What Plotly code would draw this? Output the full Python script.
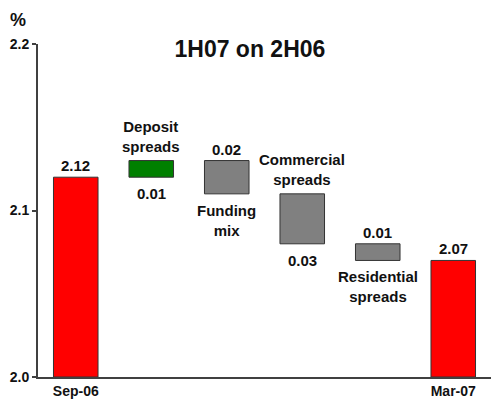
import plotly.graph_objects as go

# ---- data ----
categories = ["Sep-06", "Deposit spreads", "Funding mix", "Commercial spreads", "Residential spreads", "Mar-07"]
name_lines = ["Sep-06", "Deposit<br>spreads", "Funding<br>mix", "Commercial<br>spreads", "Residential<br>spreads", "Mar-07"]
start_value = 2.12
changes = [0.01, -0.02, -0.03, -0.01]
end_value = 2.07
tick_labels = ["Sep-06", "", "", "", "", "Mar-07"]
y_ticks = [2.0, 2.1, 2.2]

FONT = "Liberation Sans, Arial, sans-serif"
RED = "#FF0000"
GREEN = "#008000"
GREY = "#808080"
AXIS = "#404040"

# compute bar bases/heights from data
bases, heights, colors = [], [], []
bases.append(2.0); heights.append(start_value - 2.0); colors.append(RED)
level = start_value
for c in changes:
    lo = min(level, level + c)
    bases.append(lo); heights.append(abs(c))
    colors.append(GREEN if c > 0 else GREY)
    level += c
bases.append(2.0); heights.append(end_value - 2.0); colors.append(RED)

fig = go.Figure(go.Bar(
    x=categories, y=heights, base=bases,
    marker=dict(color=colors, line=dict(color="#333333", width=1)),
    hoverinfo="skip",
))

lab_font = dict(family=FONT, size=15, color="#111111", weight="bold")
annotations = []
# totals
for i, v in [(0, start_value), (5, end_value)]:
    annotations.append(dict(x=categories[i], y=v, text=f"{v:.2f}", showarrow=False,
                            yanchor="bottom", yshift=1, font=lab_font))
# changes
level = start_value
for k, c in enumerate(changes):
    i = k + 1
    top = max(level, level + c)
    bot = min(level, level + c)
    val_txt = f"{abs(c):.2f}"
    if c > 0 or k == 2:
        # name above, value below
        above, below = name_lines[i], val_txt
        up_shift = 4
    else:
        above, below = val_txt, name_lines[i]
        up_shift = 1
    annotations.append(dict(x=categories[i], y=top, text=above, showarrow=False,
                            yanchor="bottom", yshift=up_shift, font=lab_font))
    annotations.append(dict(x=categories[i], y=bot, text=below, showarrow=False,
                            yanchor="top", yshift=-6, font=lab_font))
    level += c

annotations.append(dict(xref="paper", yref="paper", x=-0.045, y=1.072, text="%", showarrow=False,
                        xanchor="center", yanchor="middle",
                        font=dict(family=FONT, size=18, color="#111111", weight="bold")))

fig.update_layout(
    width=492, height=405,
    margin=dict(l=38, r=1, t=44, b=28),
    paper_bgcolor="white", plot_bgcolor="white",
    showlegend=False,
    bargap=0.41,
    title=dict(text="1H07 on 2H06", x=0.508, xanchor="center", y=0.88, yanchor="middle",
               font=dict(family=FONT, size=23, color="#111111", weight="bold")),
    annotations=annotations,
    xaxis=dict(type="category", tickvals=categories, ticktext=tick_labels,
               showline=True, linecolor=AXIS, linewidth=2, ticks="",
               showgrid=False, zeroline=False,
               tickfont=dict(family=FONT, size=14, color="#111111", weight="bold")),
    yaxis=dict(range=[2.0, 2.2], tickvals=y_ticks, tickformat=".1f",
               showline=True, linecolor=AXIS, linewidth=2,
               ticks="outside", ticklen=4, tickwidth=2, tickcolor=AXIS,
               showgrid=False, zeroline=False,
               tickfont=dict(family=FONT, size=14, color="#111111", weight="bold")),
)

fig.write_html("out.html", config={"displayModeBar": False},
               post_script="document.body.style.margin='0px';")
